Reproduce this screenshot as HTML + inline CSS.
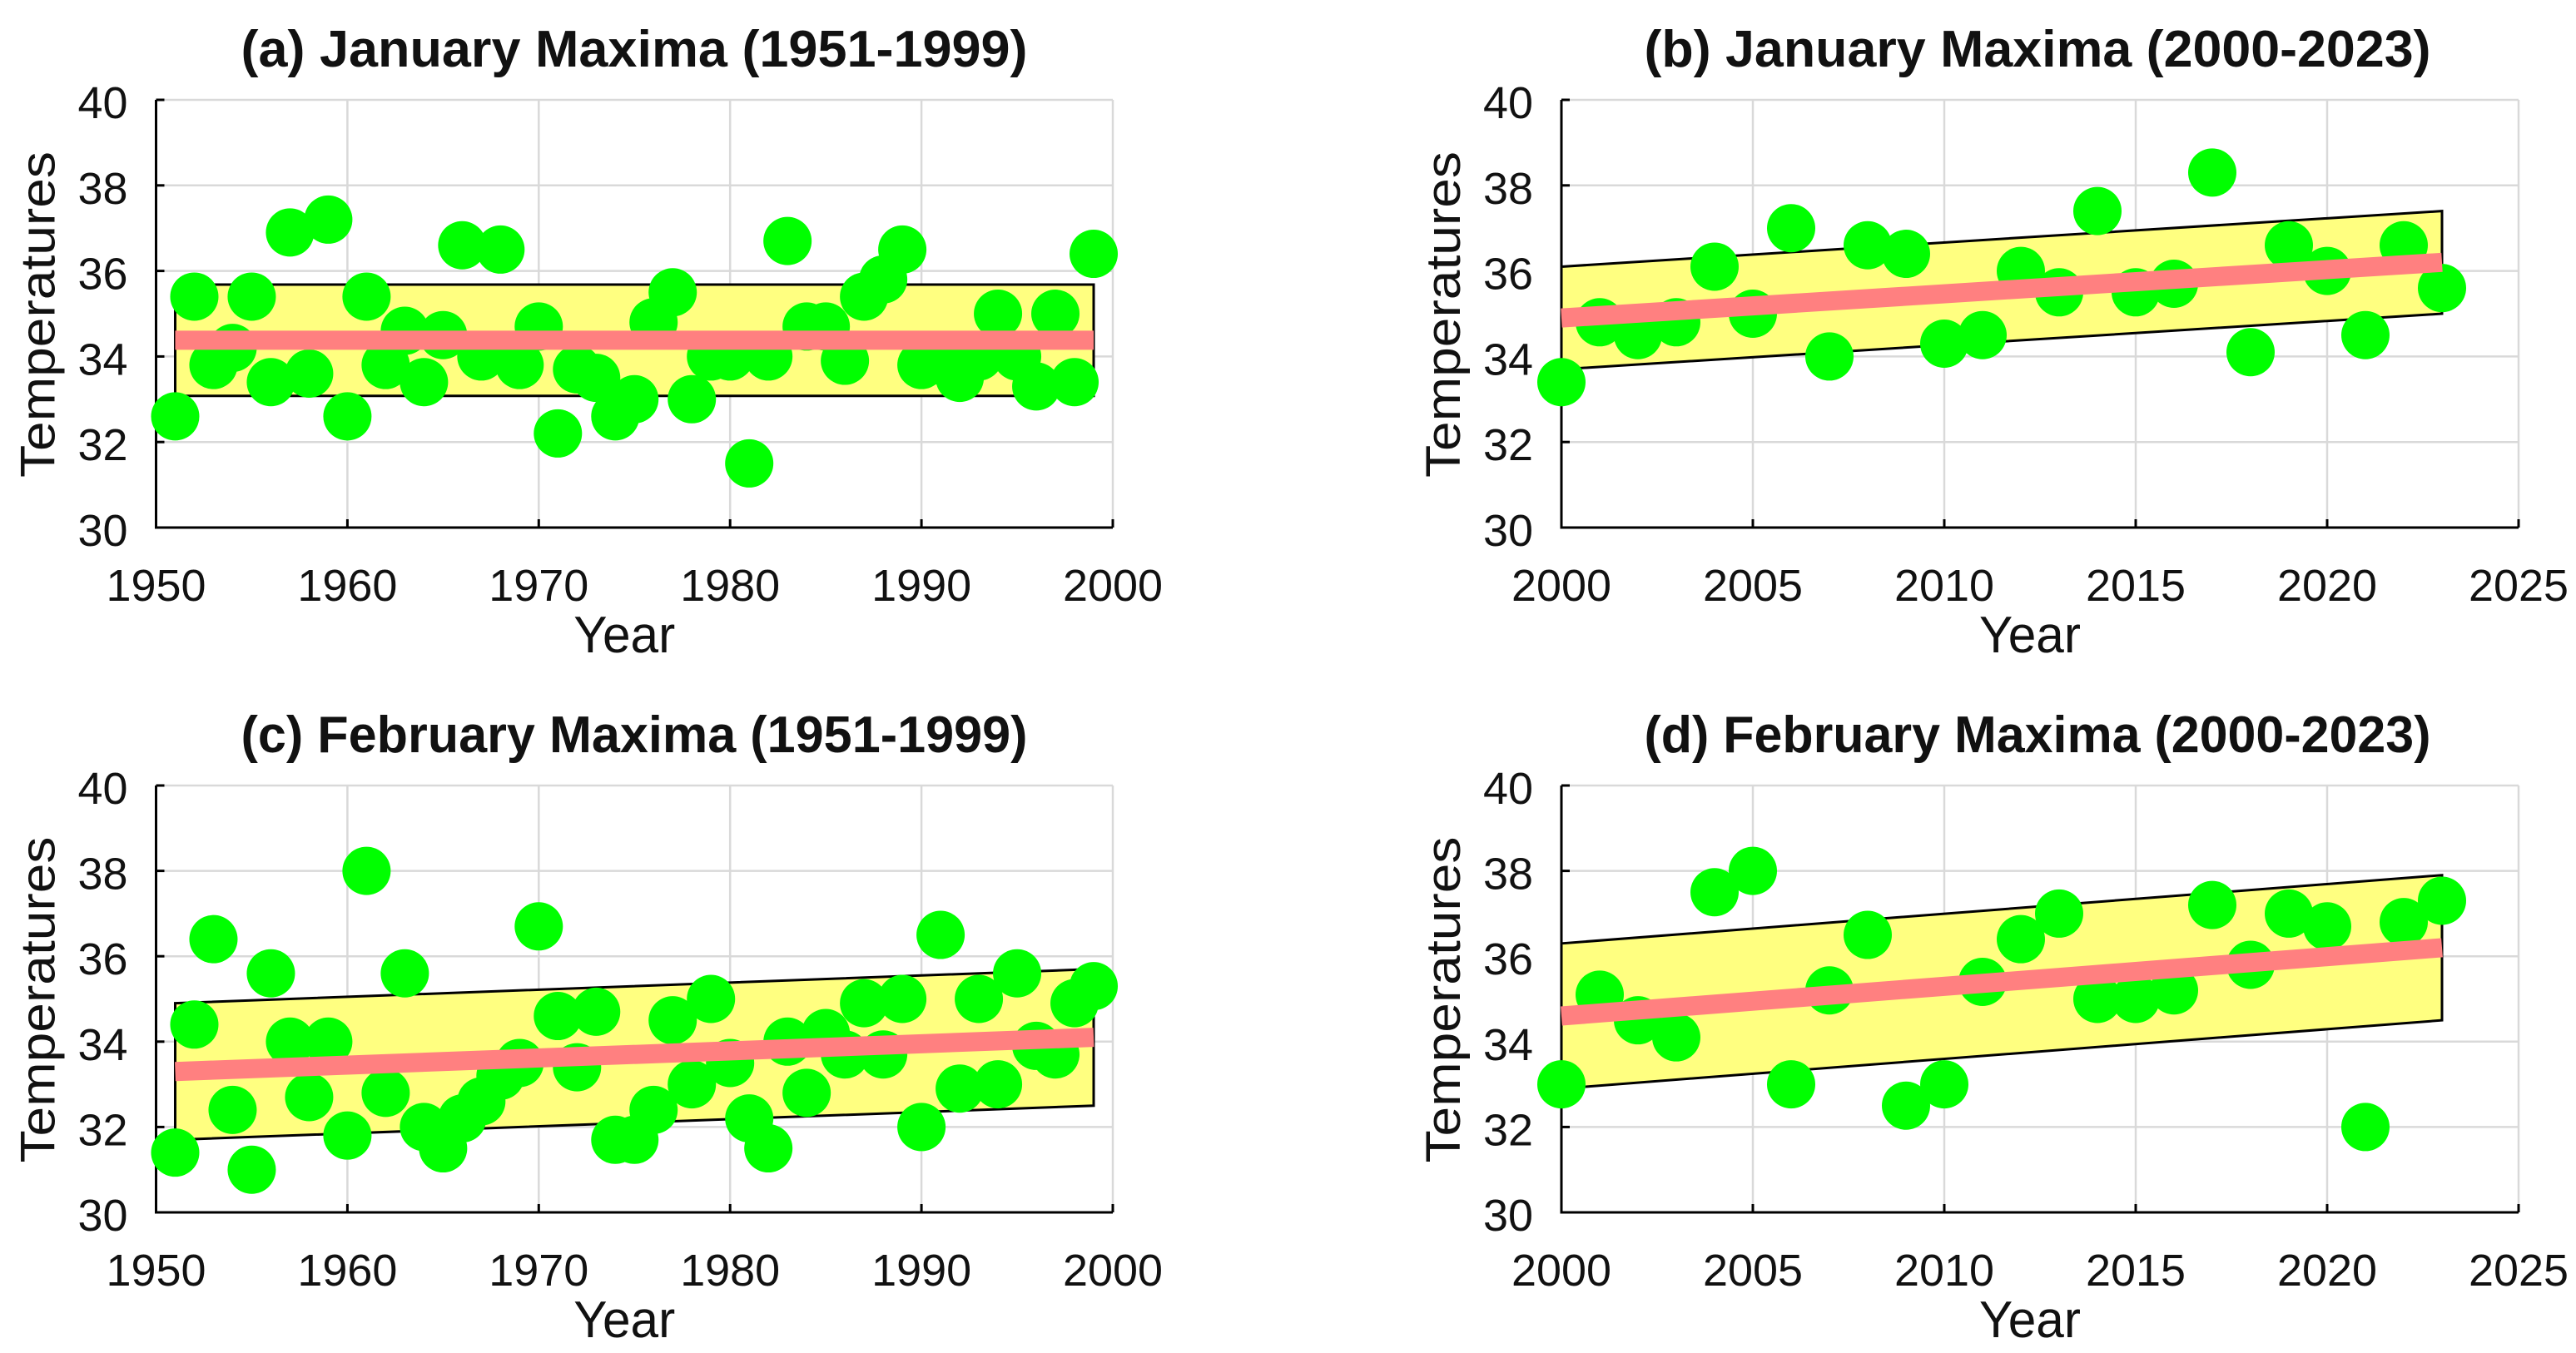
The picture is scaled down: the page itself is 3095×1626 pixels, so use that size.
<!DOCTYPE html>
<html><head><meta charset="utf-8"><style>
html,body{margin:0;padding:0;background:#fff;}
svg{display:block;}
text{font-family:"Liberation Sans Narrow","Liberation Sans",sans-serif;fill:#111;}
</style></head><body>
<svg id="fig" width="3095" height="1626" viewBox="0 0 3095 1626" xmlns="http://www.w3.org/2000/svg"></svg>
<script>
// ---- data ----
const yearsA = [1951,1952,1953,1954,1955,1956,1957,1958,1959,1960,1961,1962,1963,1964,1965,1966,1967,1968,1969,1970,1971,1972,1973,1974,1975,1976,1977,1978,1979,1980,1981,1982,1983,1984,1985,1986,1987,1988,1989,1990,1991,1992,1993,1994,1995,1996,1997,1998,1999];
const janEarly = [32.6,35.4,33.8,34.2,35.4,33.4,36.9,33.6,37.2,32.6,35.4,33.8,34.6,33.4,34.5,36.6,34.0,36.5,33.8,34.7,32.2,33.7,33.5,32.6,33.0,34.8,35.5,33.0,34.0,34.0,31.5,34.0,36.7,34.7,34.7,33.9,35.4,35.8,36.5,33.8,33.9,33.5,34.0,35.0,34.0,33.3,35.0,33.4,36.4];
const febEarly = [31.4,34.4,36.4,32.4,31.0,35.6,34.0,32.7,34.0,31.8,38.0,32.8,35.6,32.0,31.5,32.2,32.6,33.2,33.5,36.7,34.6,33.4,34.7,31.7,31.7,32.4,34.5,33.0,35.0,33.5,32.2,31.5,34.0,32.8,34.2,33.7,34.9,33.7,35.0,32.0,36.5,32.9,35.0,33.0,35.6,33.9,33.7,34.9,35.3];
const yearsB = [2000,2001,2002,2003,2004,2005,2006,2007,2008,2009,2010,2011,2012,2013,2014,2015,2016,2017,2018,2019,2020,2021,2022,2023];
const janLate = [33.4,34.8,34.5,34.8,36.1,35.0,37.0,34.0,36.6,36.4,34.3,34.5,36.0,35.5,37.4,35.5,35.7,38.3,34.1,36.6,36.0,34.5,36.6,35.6];
const febLate = [33.0,35.1,34.5,34.1,37.5,38.0,33.0,35.2,36.5,32.5,33.0,35.4,36.4,37.0,35.0,35.0,35.2,37.2,35.8,37.0,36.7,32.0,36.8,37.3];
// trend [start,end] and band half-width
const trendA = [34.38,34.38]; const bandA = [1.3];
const trendB = [34.9,36.2];   const bandB = [1.2];
const trendC = [33.3,34.1];   const bandC = [1.6];
const trendD = [34.6,36.2];   const bandD = [1.7];
const yTicks = [30,32,34,36,38,40];
const xTicksA = [1950,1960,1970,1980,1990,2000];
const xTicksB = [2000,2005,2010,2015,2020,2025];

const NS="http://www.w3.org/2000/svg";
const svg=document.getElementById('fig');
function mk(tag,attrs,parent){const e=document.createElementNS(NS,tag);for(const k in attrs)e.setAttribute(k,attrs[k]);(parent||svg).appendChild(e);return e;}

const panels=[
 {id:'a',title:'(a) January Maxima (1951-1999)',x0:187.5,x1:1337,yT:120,yB:634,xmin:1950,xmax:2000,xt:xTicksA,yrs:yearsA,vals:janEarly,tr:trendA,bd:bandA,tcx:762,tby:80},
 {id:'b',title:'(b) January Maxima (2000-2023)',x0:1876,x1:3026,yT:120,yB:634,xmin:2000,xmax:2025,xt:xTicksB,yrs:yearsB,vals:janLate,tr:trendB,bd:bandB,tcx:2448,tby:80},
 {id:'c',title:'(c) February Maxima (1951-1999)',x0:187.5,x1:1337,yT:944,yB:1457,xmin:1950,xmax:2000,xt:xTicksA,yrs:yearsA,vals:febEarly,tr:trendC,bd:bandC,tcx:762,tby:904},
 {id:'d',title:'(d) February Maxima (2000-2023)',x0:1876,x1:3026,yT:944,yB:1457,xmin:2000,xmax:2025,xt:xTicksB,yrs:yearsB,vals:febLate,tr:trendD,bd:bandD,tcx:2448,tby:904}
];

panels.forEach(p=>{
 const g=mk('g',{});
 
 
 const X=v=>p.x0+(v-p.xmin)/(p.xmax-p.xmin)*(p.x1-p.x0);
 const Y=v=>p.yB-(v-30)/10*(p.yB-p.yT);
 yTicks.forEach(t=>{const l=mk('line',{x1:p.x0,x2:p.x1,y1:Y(t),y2:Y(t),stroke:'#d9d9d9','stroke-width':2.5},g);
  });
 p.xt.forEach(t=>{const l=mk('line',{x1:X(t),x2:X(t),y1:p.yT,y2:p.yB,stroke:'#d9d9d9','stroke-width':2.5},g);
  });
 const ax=mk('path',{d:`M${p.x0} ${p.yT}V${p.yB}H${p.x1}`,fill:'none',stroke:'#000','stroke-width':3},g);
 
 yTicks.forEach(t=>{mk('line',{x1:p.x0,x2:p.x0+10,y1:Y(t),y2:Y(t),stroke:'#000','stroke-width':3},g);
  const tx=mk('text',{x:p.x0-34,y:Y(t)+22,'text-anchor':'end','font-size':54,textLength:60,lengthAdjust:'spacingAndGlyphs'},g);tx.textContent=t;
  });
 p.xt.forEach(t=>{mk('line',{x1:X(t),x2:X(t),y1:p.yB,y2:p.yB-10,stroke:'#000','stroke-width':3},g);
  const tx=mk('text',{x:X(t),y:p.yB+88,'text-anchor':'middle','font-size':54,textLength:120,lengthAdjust:'spacingAndGlyphs'},g);tx.textContent=t;
  });
 const xs=X(p.yrs[0]), xe=X(p.yrs[p.yrs.length-1]);
 const b=mk('polygon',{points:`${xs},${Y(p.tr[0]+p.bd[0])} ${xe},${Y(p.tr[1]+p.bd[0])} ${xe},${Y(p.tr[1]-p.bd[0])} ${xs},${Y(p.tr[0]-p.bd[0])}`,fill:'#ffff80',stroke:'#000','stroke-width':3},g);
 
 p.yrs.forEach((yr,i)=>{const c=mk('circle',{cx:X(yr),cy:Y(p.vals[i]),r:29,fill:'#00ff00'},g);
  });
 const tl=mk('line',{x1:xs,y1:Y(p.tr[0]),x2:xe,y2:Y(p.tr[1]),stroke:'#ff8080','stroke-width':23},g);
 
 const tt=mk('text',{x:p.tcx,y:p.tby,'text-anchor':'middle','font-size':62,'font-weight':'bold',textLength:945,lengthAdjust:'spacingAndGlyphs'},g);tt.textContent=p.title;
 
 const xl=mk('text',{x:(p.x0+p.x1)/2-12,y:p.yB+150,'text-anchor':'middle','font-size':62,textLength:122,lengthAdjust:'spacingAndGlyphs'},g);xl.textContent='Year';
 
 const yc=(p.yT+p.yB)/2+1, yx=p.x0-122;
 const yl=mk('text',{x:yx,y:yc,transform:`rotate(-90 ${yx} ${yc})`,'text-anchor':'middle','font-size':58,textLength:392,lengthAdjust:'spacingAndGlyphs'},g);yl.textContent='Temperatures';
 
});
</script>
</body></html>
